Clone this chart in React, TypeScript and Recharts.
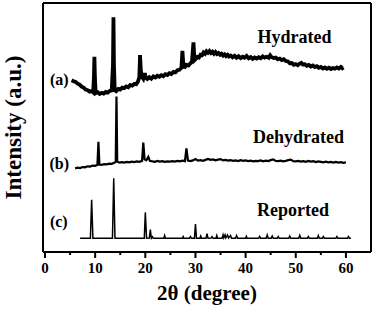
import React from 'react';
import { LineChart, Line, XAxis, YAxis, ReferenceDot, ReferenceLine } from 'recharts';

// Hydrated (a)
const hydratedAngle = [5.3,5.7,6.1,6.5,6.9,7.3,7.7,8.1,8.5,8.9,9.3,9.6,9.75,9.85,9.95,10.1,10.5,10.9,11.3,11.7,12.1,12.5,12.9,13.3,13.55,13.65,13.75,13.9,14.2,14.6,15.0,15.4,15.8,16.2,16.6,17.0,17.4,17.8,18.2,18.5,18.8,18.95,19.1,19.3,19.6,19.9,20.1,20.4,20.8,21.2,21.6,22.0,22.4,22.8,23.2,23.6,24.0,24.4,24.8,25.2,25.6,26.0,26.4,26.8,27.2,27.4,27.6,27.9,28.2,28.6,29.0,29.3,29.6,29.8,30.1,30.4,30.7,31.0,31.3,31.6,31.9,32.2,32.5,32.8,33.1,33.4,33.7,34.0,34.3,34.6,34.9,35.2,35.5,35.8,36.1,36.4,36.7,37.0,37.4,37.8,38.2,38.6,39.0,39.4,39.8,40.2,40.6,41.0,41.4,41.8,42.2,42.6,43.0,43.4,43.8,44.2,44.6,44.9,45.2,45.6,46.0,46.4,46.8,47.2,47.6,48.0,48.4,48.8,49.2,49.6,50.0,50.4,50.8,51.1,51.4,51.8,52.2,52.6,53.0,53.4,53.8,54.2,54.6,55.0,55.4,55.8,56.2,56.6,57.0,57.4,57.8,58.2,58.6,59.0,59.3,59.5];
const hydratedIntensity = [69.0,68.6,68.3,67.6,67.2,66.4,66.0,65.2,65.0,64.4,64.6,64.1,70,78.4,70,63.8,64.2,63.5,63.9,63.6,64.3,64.0,64.7,64.9,75,94.3,75,65.0,64.6,65.5,65.2,66.0,65.8,66.5,66.2,67.1,66.8,67.5,67.4,68.3,70,79.1,73,70.5,69.6,71.8,70,69.5,70.2,69.6,70.5,70.1,70.8,70.4,71.0,70.6,71.4,71.1,71.8,71.5,72.3,72.1,73.0,73.2,74,80.8,74.5,74.3,75.2,74.9,75.8,76.5,84.2,77,77.6,78.4,78.1,79.2,79.0,80.1,79.6,80.6,80.0,80.7,79.9,80.4,79.6,80.3,79.5,79.9,79.2,79.6,78.9,79.4,78.7,79.2,78.5,78.9,78.2,78.8,78.0,78.6,77.9,78.4,78.0,78.7,77.8,78.3,77.6,78.1,77.7,78.2,77.8,78.6,78.1,78.4,78.0,79.0,78.2,77.9,78.1,77.4,77.7,77.1,77.4,76.7,76.6,75.8,75.9,75.2,75.5,75.0,75.7,76.0,75.3,75.4,74.8,75.1,74.5,74.9,74.3,74.6,74.0,74.3,73.7,74.1,73.6,74.0,73.5,73.9,73.6,74.1,73.7,74.3,73.8,74.1];

// Dehydrated (b)
const dehydratedAngle = [6.0,6.5,7.0,7.5,8.0,8.5,9.0,9.5,10.0,10.45,10.65,10.85,11.3,11.8,12.3,12.8,13.3,13.8,14.1,14.25,14.4,14.8,15.3,15.8,16.3,16.8,17.3,17.8,18.3,18.8,19.35,19.6,19.85,20.2,20.6,20.9,21.4,21.9,22.4,22.9,23.4,23.9,24.4,24.9,25.4,25.9,26.4,26.9,27.4,27.9,28.2,28.5,29.0,29.5,30.0,30.5,31.0,31.5,32.0,32.5,33.0,33.5,34.0,34.5,35.0,35.5,36.0,36.5,37.0,37.5,38.0,38.5,39.0,39.5,40.0,40.5,41.0,41.5,42.0,42.5,43.0,43.5,44.0,44.5,45.0,45.5,46.0,46.5,47.0,47.5,48.0,48.5,49.0,49.5,50.0,50.5,51.0,51.5,52.0,52.5,53.0,53.5,54.0,54.5,55.0,55.5,56.0,56.5,57.0,57.5,58.0,58.5,59.0,59.5,60.0];
const dehydratedIntensity = [33.6,33.9,33.7,34.1,34.0,34.4,34.3,34.7,34.6,35.0,44.3,35.1,35.0,35.3,35.2,35.5,35.4,35.8,36.2,62.4,36.3,35.9,36.1,35.9,36.2,36.0,36.3,36.1,36.4,36.2,36.6,43.9,37.2,36.8,38.2,36.6,36.4,36.2,36.6,36.3,36.5,36.2,36.4,36.3,36.5,36.3,36.6,36.4,36.7,36.5,41.6,36.7,36.5,36.8,37.3,36.7,36.9,36.6,37.0,37.4,37.0,37.2,36.8,37.1,37.3,36.8,37.0,36.7,36.9,36.6,36.8,36.5,36.9,36.6,36.8,36.5,36.7,36.4,36.6,36.5,36.8,36.4,36.7,36.5,36.9,37.2,36.6,36.5,36.7,36.4,36.6,36.9,37.1,36.5,36.4,36.6,36.3,36.5,36.2,36.6,36.3,36.5,36.1,36.4,36.2,36.0,36.3,36.0,36.2,35.9,36.2,35.9,36.1,35.8,36.0];

// Reported (c)
const reportedAngle = [7.0,9.05,9.3,9.55,13.45,13.7,13.95,19.8,20.0,20.25,20.8,21.0,21.2,21.4,21.6,23.7,23.85,24.0,27.4,27.55,27.7,28.8,29.0,29.2,29.8,30.0,30.2,30.9,31.05,31.2,32.1,32.3,32.5,33.1,33.3,33.5,34.1,34.25,34.4,35.3,35.5,35.65,35.9,36.05,36.4,36.6,37.0,37.2,38.0,38.2,38.4,40.0,40.15,40.3,42.6,42.8,43.0,44.1,44.3,44.5,45.1,45.3,45.5,46.3,46.5,46.7,48.6,48.8,49.0,50.6,50.8,51.0,52.3,52.5,52.7,54.3,54.5,54.7,55.3,55.5,55.7,58.0,58.2,58.4,60.3,60.5,60.7,61.0];
const reportedIntensity = [5.5,5.5,21.0,5.5,5.5,29.6,5.5,5.5,15.9,5.5,5.6,9.0,5.6,6.2,5.5,5.5,6.6,5.5,5.5,6.2,5.5,5.5,6.2,5.5,5.5,11.2,5.5,5.5,6.4,5.5,5.5,7.4,5.5,5.6,6.2,5.5,5.5,6.6,5.5,5.5,6.9,5.7,6.9,5.7,6.8,5.6,6.6,5.5,5.5,6.6,5.5,5.5,6.3,5.5,5.5,6.3,5.5,5.5,6.8,5.5,5.5,6.4,5.5,5.5,6.2,5.5,5.5,6.4,5.5,5.5,6.7,5.5,5.5,6.2,5.5,5.5,6.6,5.5,5.5,6.2,5.5,5.5,6.2,5.5,5.5,6.2,5.5,5.5];

const majorTicks = [0, 10, 20, 30, 40, 50, 60];
const minorTicks = [5, 15, 25, 35, 45, 55];
const minorTickDepth = -1.2;

const seriesNames = ['Hydrated', 'Dehydrated', 'Reported'];
const seriesTags = ['(a)', '(b)', '(c)'];
const nameAnchorX = [49.75, 50.55, 49.45];
const nameAnchorY = [86.7, 46.2, 16.9];
const tagAnchorX = [2.85, 2.85, 2.75];
const tagAnchorY = [69.5, 35.6, 12.4];

const zip = (xs: number[], ys: number[]) => xs.map((x, i) => ({ x, y: ys[i] }));
const hydrated = zip(hydratedAngle, hydratedIntensity);
const dehydrated = zip(dehydratedAngle, dehydratedIntensity);
const reported = zip(reportedAngle, reportedIntensity);

const FONT = 'Liberation Serif, Times New Roman, serif';

export default function App() {
  return (
    <div style={{ position: 'absolute', left: 0, top: 0, width: 374, height: 319, background: '#fff' }}>
      <LineChart width={374} height={319} margin={{ top: 2, right: 2, left: 42, bottom: 0 }}>
        <XAxis
          xAxisId="main"
          dataKey="x"
          type="number"
          domain={[-0.4, 65]}
          ticks={majorTicks}
          tick={{ fill: '#000', fontFamily: FONT, fontWeight: 'bold', fontSize: 15 }}
          tickSize={6}
          tickMargin={4}
          tickLine={{ stroke: '#000', strokeWidth: 2 }}
          height={67}
          stroke="#000"
          strokeWidth={2}
          axisLine={true}
          allowDataOverflow
          label={{ value: '2θ (degree)', position: 'insideBottom', offset: 19, fontFamily: FONT, fontWeight: 'bold', fontSize: 21, fill: '#000' }}
        />
        <XAxis
          xAxisId="top"
          orientation="top"
          dataKey="x"
          type="number"
          domain={[-0.4, 65]}
          tick={false}
          tickLine={false}
          height={1}
          stroke="#000"
          strokeWidth={2}
          axisLine={true}
        />
        <YAxis
          yAxisId="main"
          type="number"
          domain={[0, 100]}
          tick={false}
          tickLine={false}
          width={1}
          stroke="#000"
          strokeWidth={2}
          axisLine={true}
          allowDataOverflow
          label={{ value: 'Intensity (a.u.)', angle: -90, position: 'center', dx: -30, fontFamily: FONT, fontWeight: 'bold', fontSize: 23, fill: '#000' }}
        />
        <YAxis
          yAxisId="right"
          orientation="right"
          type="number"
          domain={[0, 100]}
          tick={false}
          tickLine={false}
          width={1}
          stroke="#000"
          strokeWidth={2}
          axisLine={true}
        />
        {minorTicks.map((t) => (
          <ReferenceLine key={t} xAxisId="main" yAxisId="main" ifOverflow="visible"
            segment={[{ x: t, y: 0 }, { x: t, y: minorTickDepth }]} stroke="#000" strokeWidth={2} />
        ))}
        <Line xAxisId="main" yAxisId="main" data={hydrated} dataKey="y" type="linear" stroke="#000" strokeWidth={3.8} dot={false} isAnimationActive={false} />
        <Line xAxisId="main" yAxisId="main" data={dehydrated} dataKey="y" type="linear" stroke="#000" strokeWidth={2.2} dot={false} isAnimationActive={false} />
        <Line xAxisId="main" yAxisId="main" data={reported} dataKey="y" type="linear" stroke="#000" strokeWidth={1.5} dot={false} isAnimationActive={false} />
        {seriesNames.map((n, i) => (
          <ReferenceDot key={n} xAxisId="main" yAxisId="main" x={nameAnchorX[i]} y={nameAnchorY[i]} r={0} stroke="none" fill="none"
            label={{ value: n, position: 'center', fontFamily: FONT, fontWeight: 'bold', fontSize: 18, fill: '#000' }} />
        ))}
        {seriesTags.map((t, i) => (
          <ReferenceDot key={t} xAxisId="main" yAxisId="main" x={tagAnchorX[i]} y={tagAnchorY[i]} r={0} stroke="none" fill="none"
            label={{ value: t, position: 'center', fontFamily: FONT, fontWeight: 'bold', fontSize: 16, fill: '#000' }} />
        ))}
      </LineChart>
    </div>
  );
}
